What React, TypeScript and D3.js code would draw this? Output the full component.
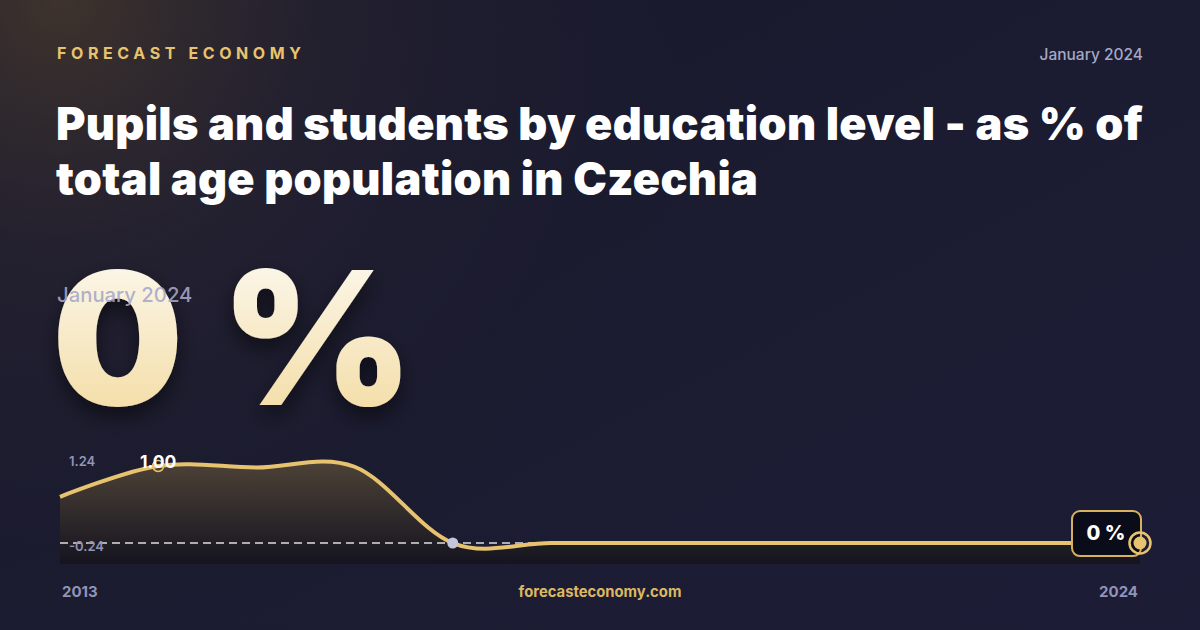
import * as d3 from 'd3';

const years = ['2013', '2014', '2015', '2016', '2017', '2018', '2019', '2020', '2021', '2022', '2023', '2024'];
const values = [0.6, 1.0, 0.98, 0.99, 0, 0, 0, 0, 0, 0, 0, 0];
const yTicks = [1.24, -0.24];

const W = 1200;
const H = 630;
const plot = { left: 60, right: 1140, top: 447.5, bottom: 561.5, floor: 564 };
const gold = '#e8c36f';
const muted = '#9294b6';
const font = 'Inter, "Noto Sans", sans-serif';

export default function App() {
  const x = d3.scalePoint<string>().domain(years).range([plot.left, plot.right]);
  const y = d3.scaleLinear().domain([yTicks[1], yTicks[0]]).range([plot.bottom, plot.top]);

  const pts = years.map((yr, i) => ({ yr, v: values[i] }));
  const line = d3.line<typeof pts[0]>().x((d) => x(d.yr) ?? 0).y((d) => y(d.v)).curve(d3.curveCardinal.tension(0));
  const area = d3.area<typeof pts[0]>().x((d) => x(d.yr) ?? 0).y0(plot.floor).y1((d) => y(d.v)).curve(d3.curveCardinal.tension(0));

  const maxI = d3.maxIndex(values);
  const minI = d3.minIndex(values);
  const last = pts[pts.length - 1];
  const lx = x(last.yr) ?? 0;
  const ly = y(last.v);
  const mx = x(years[maxI]) ?? 0;
  const my = y(values[maxI]);

  return (
    <>
      <style>{'body{margin:0;background:#17182b}'}</style>
      <svg width={W} height={H} style={{ display: 'block' }} fontFamily={font}>
        <defs>
          <linearGradient id="bg" x1="0" y1="0" x2="1" y2="1">
            <stop offset="0%" stopColor="#1a1a2c" />
            <stop offset="100%" stopColor="#1c1c36" />
          </linearGradient>
          <radialGradient id="glow" cx="60" cy="0" r="650" gradientUnits="userSpaceOnUse">
            <stop offset="0%" stopColor="#3e332c" stopOpacity="1" />
            <stop offset="40%" stopColor="#2c2630" stopOpacity="0.5" />
            <stop offset="100%" stopColor="#1a1a2c" stopOpacity="0" />
          </radialGradient>
          <linearGradient id="big" x1="0" y1="0" x2="0" y2="1">
            <stop offset="0%" stopColor="#fdfcf8" />
            <stop offset="100%" stopColor="#f2d898" />
          </linearGradient>
          <linearGradient id="fill" x1="0" y1="0" x2="0" y2="1">
            <stop offset="0%" stopColor="#4d4237" />
            <stop offset="100%" stopColor="#15141f" />
          </linearGradient>
          <filter id="shadow" x="-20%" y="-20%" width="140%" height="150%">
            <feDropShadow dx="0" dy="10" stdDeviation="10" floodColor="#000" floodOpacity="0.5" />
          </filter>
        </defs>

        <rect width={W} height={H} fill="url(#bg)" />
        <rect width={W} height={H} fill="url(#glow)" />

        <text x={57} y={59} fill={gold} fontSize={16} fontWeight={700} letterSpacing={4.6}>FORECAST ECONOMY</text>
        <text x={1143} y={60} fill="#a6a8c6" fontSize={15.5} fontWeight={500} textAnchor="end">January 2024</text>

        <text fill="#ffffff" fontSize={45} fontWeight={900} letterSpacing={0.3}>
          <tspan x={56} y={140}>Pupils and students by education level - as % of</tspan>
          <tspan x={56} y={195}>total age population in Czechia</tspan>
        </text>

        <text x={52} y={405} fill="url(#big)" fontSize={185} fontWeight={900} filter="url(#shadow)">0 %</text>
        <text x={57} y={302} fill="#a6a8c8" fillOpacity={0.9} fontSize={20.3} fontWeight={500}>January 2024</text>

        <path d={area(pts) ?? ''} fill="url(#fill)" />
        <line x1={plot.left} x2={plot.right} y1={ly} y2={ly} stroke="#ffffff" strokeOpacity={0.85} strokeWidth={1.3} strokeDasharray="8 5" />
        <path d={line(pts) ?? ''} fill="none" stroke={gold} strokeWidth={4} strokeLinejoin="round" />

        {yTicks.map((t, i) => (
          <text key={t} x={69} y={i === 0 ? 466 : 551} fill={muted} fontSize={13} fontWeight={600}>{t.toFixed(2)}</text>
        ))}

        <circle cx={mx} cy={my} r={5.5} fill="none" stroke={gold} strokeWidth={1.5} />
        <text x={mx} y={my + 2} fill="#ffffff" fontSize={17.5} fontWeight={700} textAnchor="middle">{values[maxI].toFixed(2)}</text>
        <circle cx={x(years[minI]) ?? 0} cy={y(values[minI])} r={5.5} fill="#c3c6dc" />

        <rect x={lx - 68} y={ly - 32} width={69} height={45} rx={8} fill="#0b0c1a" stroke="#d6b25f" strokeWidth={2} />
        <text x={lx - 34} y={ly - 3} fill="#ffffff" fontSize={20} fontWeight={800} textAnchor="middle">{`${last.v} %`}</text>
        <circle cx={lx} cy={ly} r={10.5} fill="none" stroke={gold} strokeWidth={2.5} />
        <circle cx={lx} cy={ly} r={6.5} fill={gold} />

        <text x={62} y={597} fill={muted} fontSize={15} fontWeight={700}>{years[0]}</text>
        <text x={600} y={597} fill="#dcb862" fontSize={14.8} fontWeight={700} textAnchor="middle">forecasteconomy.com</text>
        <text x={1138} y={597} fill={muted} fontSize={15} fontWeight={700} textAnchor="end">{years[years.length - 1]}</text>
      </svg>
    </>
  );
}
